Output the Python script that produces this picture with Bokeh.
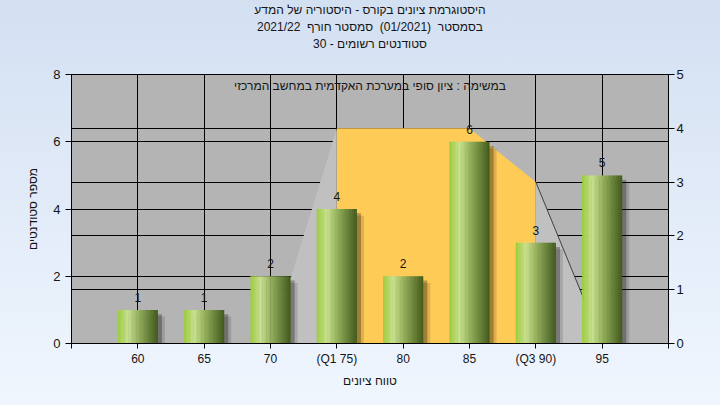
import numpy as np
from bokeh.plotting import figure
from bokeh.models import Range1d, LinearAxis, FixedTicker, Grid, Label
from bokeh.embed import file_html
from bokeh.resources import INLINE
from bokeh.core.properties import value

# ---------------- data ----------------
title_lines = [
    "היסטוגרמת ציונים בקורס - היסטוריה של המדע",
    "בסמסטר\u00a0 (01/2021)\u00a0 סמסטר חורף\u00a0 2021/22",
    "סטודנטים רשומים - 30",
]
subtitle = "במשימה : ציון סופי במערכת האקדמית במחשב המרכזי"
x_title = "טווח ציונים"
y_title = "מספר סטודנטים"

grades = [60, 65, 70, 75, 80, 85, 90, 95]
counts = [1, 1, 2, 4, 2, 6, 3, 5]
q_labels = {75: "(Q1 75)", 90: "(Q3 90)"}
x_ticks = [55, 60, 65, 70, 75, 80, 85, 90, 95, 100]
left_ticks = [0, 2, 4, 6, 8]
right_ticks = [0, 1, 2, 3, 4, 5]

area_x = [70, 75, 80, 85, 90, 95]
area_y = [0, 4, 4, 4, 3, 0]
q1, q3 = 75, 90

FONT = "Liberation Sans"
TXT = "#141414"

X0, X1, Y0, Y1 = 55, 100, 0, 8
XC = (X0 + X1) / 2
p = figure(width=720, height=405, x_range=Range1d(X0, X1), y_range=Range1d(Y0, Y1),
           output_backend="svg", toolbar_location=None,
           min_border_left=71, min_border_right=52, min_border_bottom=62, min_border_top=72)
p.extra_y_ranges = {"right": Range1d(0, 5)}

# default axes (grab before adding the title axis)
ax = p.below[0]
ay = p.left[0]

p.background_fill_color = "#b4b4b4"
p.border_fill_alpha = 0
p.styles = {"background": "linear-gradient(#d3e0f2, #f0f6fe)"}
p.outline_line_color = "black"
p.outline_line_alpha = 1

# title line 1 = figure title (outermost); lines 2-3 via a bare axis above the frame
p.title.text = title_lines[0]
p.title.align = "center"
p.title.text_font_size = "12px"
p.title.text_font_style = "normal"
p.title.text_font = FONT
p.title.text_color = TXT
p.title.standoff = 0

top_ax = LinearAxis(ticker=FixedTicker(ticks=[XC]), major_label_overrides={XC: title_lines[2]},
                    axis_label=title_lines[1])
top_ax.axis_line_color = None
top_ax.major_tick_line_color = None
top_ax.minor_tick_line_color = None
top_ax.major_tick_out = 0
top_ax.major_tick_in = 0
top_ax.major_label_standoff = 24
top_ax.axis_label_standoff = 0
top_ax.major_label_text_font = FONT
top_ax.major_label_text_font_size = "12px"
top_ax.major_label_text_color = TXT
top_ax.axis_label_text_font = FONT
top_ax.axis_label_text_font_size = "12px"
top_ax.axis_label_text_font_style = "normal"
top_ax.axis_label_text_color = TXT
p.add_layout(top_ax, "above")

# axes
ax.ticker = FixedTicker(ticks=x_ticks)
overrides = {x_ticks[0]: "", x_ticks[-1]: ""}
overrides.update(q_labels)
ax.major_label_overrides = overrides
ay.ticker = FixedTicker(ticks=left_ticks)
ar = LinearAxis(y_range_name="right", ticker=FixedTicker(ticks=right_ticks))
p.add_layout(ar, "right")

for a in [ax, ay, ar]:
    a.axis_line_color = "black"
    a.major_tick_line_color = "black"
    a.major_tick_in = 0
    a.major_tick_out = 6
    a.minor_tick_line_color = None
    a.major_label_text_font = FONT
    a.major_label_text_color = TXT
    a.major_label_text_font_size = "13px"
    a.axis_label_text_font = FONT
    a.axis_label_text_font_size = "12px"
    a.axis_label_text_font_style = "normal"
    a.axis_label_text_color = TXT
ax.major_tick_out = 5
ax.major_label_text_font_size = "12px"
ax.major_label_standoff = 3
ax.axis_label = x_title
ax.axis_label_standoff = 5
ay.axis_label = y_title
ay.major_label_standoff = 5
ay.axis_label_standoff = 10
ar.major_label_standoff = 2

# grids
p.xgrid.ticker = FixedTicker(ticks=grades)
p.ygrid.ticker = FixedTicker(ticks=left_ticks)
for g in [p.xgrid[0], p.ygrid[0]]:
    g.grid_line_color = "black"
    g.grid_line_alpha = 1
    g.grid_line_width = 1
rgrid = Grid(dimension=1, ticker=FixedTicker(ticks=right_ticks[1:-1]), y_range_name="right",
             grid_line_color="black", grid_line_width=1)
p.add_layout(rgrid)

# quartile area (right axis)
i1 = area_x.index(q1)
i3 = area_x.index(q3)
p.patch(area_x[:i1 + 1] + [q1], area_y[:i1 + 1] + [0], y_range_name="right",
        fill_color="#c0c0c0", line_color=None)
p.patch(area_x[i3:] + [q3], area_y[i3:] + [0], y_range_name="right",
        fill_color="#c0c0c0", line_color=None)
p.patch([q1] + area_x[i1:i3 + 1] + [q3], [0] + area_y[i1:i3 + 1] + [0], y_range_name="right",
        fill_color="#fecb57", line_color=None)
p.line(area_x[i3:], area_y[i3:], y_range_name="right", line_color="#404040", line_width=1)

# bars: shadow + gradient stripes
BAR_W = 3.0
p.vbar(x=[g + 0.42 for g in grades], top=[c - 0.2 for c in counts], bottom=0, width=BAR_W + 0.25,
       fill_color="black", fill_alpha=0.13, line_color=None)
p.vbar(x=[g + 0.32 for g in grades], top=[c - 0.13 for c in counts], bottom=0, width=BAR_W,
       fill_color="black", fill_alpha=0.28, line_color=None)

stops_pos = [0.0, 0.25, 0.55, 1.0]
stops_rgb = [(0x9c, 0xcc, 0x3c), (0xc8, 0xe1, 0x90), (0x8f, 0xab, 0x58), (0x42, 0x5a, 0x1c)]
N = 30
sx, stop_, scol = [], [], []
for g, c in zip(grades, counts):
    for i in range(N):
        f = (i + 0.5) / N
        rgb = [int(np.interp(f, stops_pos, [s[k] for s in stops_rgb])) for k in range(3)]
        sx.append(g - BAR_W / 2 + f * BAR_W)
        stop_.append(c)
        scol.append("#%02x%02x%02x" % tuple(rgb))
p.vbar(x=sx, top=stop_, bottom=0, width=BAR_W / N * 1.3, fill_color=scol, line_color=None)

# value labels
p.text(x=grades, y=counts, text=[str(c) for c in counts], text_align="center",
       text_baseline="bottom", y_offset=-8, text_font_size="12px", text_font=value(FONT),
       text_color=TXT)

p.add_layout(Label(x=XC, y=7.65, text=subtitle, text_align="center", text_baseline="middle",
                   text_font_size="12px", text_font=FONT, text_color=TXT))

open("out.html", "w").write(file_html(p, INLINE))
